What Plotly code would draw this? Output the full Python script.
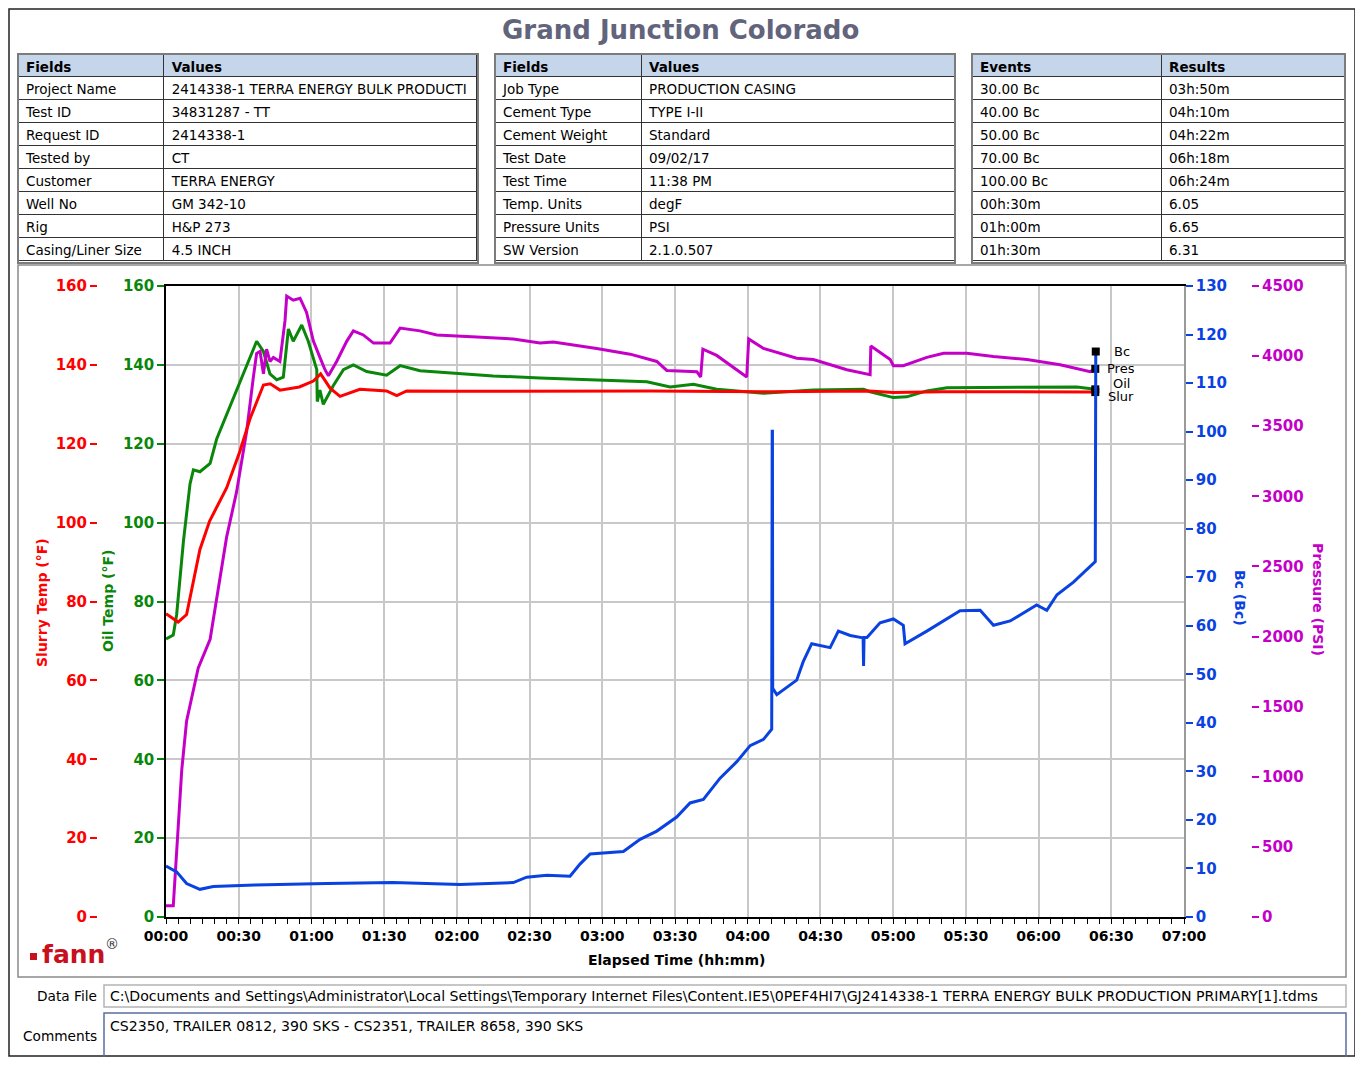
import plotly.graph_objects as go

# ---------------- page geometry helpers (reference pixels -> paper) ----------------
W, H = 1347, 1049
OFF = 8


def fx(X):
    return (X - OFF) / W


def fy(Y):
    return 1 - (Y - OFF) / H


FONT = "DejaVu Sans"

# ---------------- table data ----------------
fields_1 = ["Project Name", "Test ID", "Request ID", "Tested by", "Customer", "Well No", "Rig", "Casing/Liner Size"]
values_1 = ["2414338-1 TERRA ENERGY BULK PRODUCTI", "34831287 - TT", "2414338-1", "CT", "TERRA ENERGY",
            "GM 342-10", "H&P 273", "4.5 INCH"]
fields_2 = ["Job Type", "Cement Type", "Cement Weight", "Test Date", "Test Time", "Temp. Units",
            "Pressure Units", "SW Version"]
values_2 = ["PRODUCTION CASING", "TYPE I-II", "Standard", "09/02/17", "11:38 PM", "degF", "PSI", "2.1.0.507"]
events = ["30.00 Bc", "40.00 Bc", "50.00 Bc", "70.00 Bc", "100.00 Bc", "00h:30m", "01h:00m", "01h:30m"]
results = ["03h:50m", "04h:10m", "04h:22m", "06h:18m", "06h:24m", "6.05", "6.65", "6.31"]

# ---------------- series data (elapsed minutes) ----------------
slurry_t = [0, 5, 8.5, 14, 18, 25, 30.5, 34.7, 40.2, 43, 47, 55, 60.8, 63.8, 67.7, 71.8, 80, 91, 95.2, 99.3,
            120, 150, 200, 250, 290, 300, 320, 350, 383.4]
slurry_f = [76.9, 74.8, 76.7, 93.2, 100.4, 108.8, 118.1, 126.4, 134.9, 135.2, 133.6, 134.4, 135.9, 137.7, 134.1,
            132.0, 133.8, 133.4, 132.2, 133.4, 133.3, 133.3, 133.4, 133.2, 133.4, 133.0, 133.2, 133.2, 133.1]

oil_t = [0, 3, 4.4, 7.2, 9.9, 11.3, 14, 18.2, 20.9, 25, 30.5, 37.4, 40.2, 42.9, 45.7, 48.4, 50.5, 52.5, 56, 58.7,
         62.2, 62.4, 63.5, 64.9, 69, 73.2, 77.3, 82.8, 91, 96.6, 104.8, 121.3, 135, 154.3, 177.7, 198.4, 208,
         217.6, 227.2, 246.5, 267.1, 287.8, 290.5, 300.1, 305.6, 313.9, 322.2, 341.4, 375.8, 383.4]
oil_f = [70.5, 71.5, 76.7, 95.3, 109.8, 113.4, 112.9, 115, 121.2, 127.4, 135.7, 146, 143.4, 137.7, 136.2, 136.9,
         149.1, 146, 150.1, 146, 138.8, 130.7, 133.6, 130.0, 134.7, 138.8, 140, 138.3, 137.4, 139.8, 138.5, 137.7,
         137.2, 136.7, 136.2, 135.7, 134.4, 135.1, 133.8, 132.8, 133.6, 133.8, 133.2, 131.7, 131.9, 133.4, 134.2,
         134.3, 134.4, 133.8]

pres_t = [0, 3, 4.4, 6.5, 8.5, 11.3, 13.3, 18.2, 21.6, 25, 29.1, 33.3, 36, 37.4, 38.8, 40.2, 41.5, 42.9, 44.3, 47,
          49.1, 49.8, 52.5, 55.3, 58, 60.8, 63.5, 65.6, 67, 70.4, 74.6, 77.3, 81.4, 85.6, 92.4, 96.6, 104.8, 111.7,
          128.2, 143.3, 154.3, 159.8, 177.7, 191.5, 202.5, 206.6, 219, 220.6, 221.5, 227.2, 239.6, 240.4, 246.5,
          260.2, 267.1, 280.9, 290.5, 290.8, 298.8, 300.1, 304.2, 313.9, 320.8, 330.4, 341.4, 355.2, 368.9, 381.3,
          383.4]
pres_psi = [80, 80, 466, 1049, 1398, 1631, 1777, 1981, 2330, 2709, 3030, 3466, 3845, 4020, 4034, 3874, 4049, 3962,
            3991, 3962, 4253, 4428, 4399, 4413, 4311, 4107, 3991, 3903, 3860, 3962, 4107, 4180, 4151, 4093, 4093,
            4200, 4180, 4151, 4136, 4122, 4093, 4101, 4055, 4014, 3962, 3898, 3889, 3851, 4049, 4005, 3851, 4122,
            4055, 3985, 3976, 3903, 3868, 4072, 3976, 3932, 3932, 3991, 4020, 4020, 3997, 3976, 3938, 3889, 3909]

bc_t = [0, 4.4, 8.5, 14, 19.5, 36.6, 66.2, 93.7, 121.3, 143.3, 148.8, 157.1, 166.7, 170.8, 175, 188.7, 195.6,
        202.5, 210.7, 216.2, 221.7, 228.6, 235.5, 241, 246.5, 249.9, 250.1, 250.2, 250.3, 252, 260.2, 262.9,
        266.4, 274, 277.4, 282.3, 287.6, 287.8, 288.0, 289.2, 294.6, 300.1, 304.2, 304.9, 313.9, 322.2, 327.6,
        335.9, 341.4, 348.3, 355.2, 359.2, 363.4, 367.6, 374.4, 381.3, 383.4, 383.6]
bc_val = [10.5, 9.3, 6.9, 5.7, 6.3, 6.6, 6.9, 7.1, 6.7, 7.1, 8.2, 8.6, 8.4, 10.9, 13.0, 13.5, 16.0, 17.7, 20.6,
          23.5, 24.2, 28.6, 32.0, 35.3, 36.6, 38.7, 100.1, 100.1, 47.1, 45.8, 48.8, 52.6, 56.3, 55.5, 58.9, 58.0,
          57.5, 51.7, 57.6, 57.6, 60.6, 61.4, 60.1, 56.3, 58.9, 61.4, 63.1, 63.2, 60.1, 61.0, 63.1, 64.3, 63.2,
          66.4, 69.0, 72.3, 73.2, 116.5]

x_tick_vals = [0, 30, 60, 90, 120, 150, 180, 210, 240, 270, 300, 330, 360, 390, 420]
x_tick_text = ["00:00", "00:30", "01:00", "01:30", "02:00", "02:30", "03:00", "03:30", "04:00", "04:30",
               "05:00", "05:30", "06:00", "06:30", "07:00"]
temp_ticks = [0, 20, 40, 60, 80, 100, 120, 140, 160]
bc_ticks = [0, 10, 20, 30, 40, 50, 60, 70, 80, 90, 100, 110, 120, 130]
pres_ticks = [0, 500, 1000, 1500, 2000, 2500, 3000, 3500, 4000, 4500]

RED = "#ff0000"
GREEN = "#0a870a"
BLUE = "#0a42e2"
MAG = "#c400c8"

fig = go.Figure()


def cell_texts(items):
    """Non-breaking spaces keep each cell on one line (clipped like the reference).
    Texts holding an '&' are passed wrapped in a one-item list, so plotly.js shows
    them as plain text and the row keeps its declared height."""
    out = []
    for s in items:
        s = s.replace(" ", "\u00a0")
        out.append([s] if "&" in s else s)
    return out


# ---------------- tables ----------------
def add_table(x0, x1, y0, y1, head, col_a, col_b, widths):
    fig.add_trace(go.Table(
        domain=dict(x=[fx(x0), fx(x1)], y=[fy(y1), fy(y0)]),
        columnwidth=widths,
        header=dict(values=head, fill_color="#c5d5ea",
                    line=dict(color="#333333", width=1), align="left",
                    font=dict(family=FONT, size=13.5, color="black", weight="bold"), height=22),
        cells=dict(values=[cell_texts(col_a), cell_texts(col_b)], fill_color="white",
                   line=dict(color="#333333", width=1), align="left",
                   font=dict(family=FONT, size=13.5, color="black"), height=23),
    ))


add_table(18, 478, 54, 264, ["Fields", "Values"], fields_1, values_1, [146, 314])
add_table(495, 955, 54, 264, ["Fields", "Values"], fields_2, values_2, [146, 314])
add_table(972, 1345, 54, 264, ["Events", "Results"], events, results, [189, 184])

# ---------------- chart traces ----------------
fig.add_trace(go.Scatter(x=oil_t, y=oil_f, mode="lines", line=dict(color=GREEN, width=3),
                         xaxis="x", yaxis="y", showlegend=False, name="Oil"))
fig.add_trace(go.Scatter(x=pres_t, y=pres_psi, mode="lines", line=dict(color=MAG, width=3),
                         xaxis="x", yaxis="y2", showlegend=False, name="Pres"))
fig.add_trace(go.Scatter(x=slurry_t, y=slurry_f, mode="lines", line=dict(color=RED, width=3),
                         xaxis="x", yaxis="y3", showlegend=False, name="Slur"))
fig.add_trace(go.Scatter(x=bc_t, y=bc_val, mode="lines", line=dict(color=BLUE, width=3),
                         xaxis="x", yaxis="y4", showlegend=False, name="Bc"))

end_series = [(oil_t, oil_f, "y", "Oil", 6), (pres_t, pres_psi, "y2", "Pres", 0),
              (slurry_t, slurry_f, "y3", "Slur", -4), (bc_t, bc_val, "y4", "Bc", 0)]
annotations = []
for ts, vs, ax, lab, ysh in end_series:
    fig.add_trace(go.Scatter(x=[ts[-1]], y=[vs[-1]], mode="markers", xaxis="x", yaxis=ax,
                             marker=dict(symbol="square", size=8, color="black"), showlegend=False))
    annotations.append(dict(x=ts[-1], y=vs[-1], xref="x", yref=ax, text=lab, showarrow=False,
                            xanchor="center", xshift=26, yshift=ysh,
                            font=dict(family=FONT, size=13, color="black")))


# ---------------- text annotations ----------------
def ann(X, Y, text, size, color, xanchor="center", yanchor="middle", angle=0, bold=False):
    annotations.append(dict(x=fx(X), y=fy(Y), xref="paper", yref="paper", text=text, showarrow=False,
                            xanchor=xanchor, yanchor=yanchor, textangle=angle,
                            font=dict(family=FONT, size=size, color=color,
                                      weight="bold" if bold else "normal")))


ann(680, 30, "Grand Junction Colorado", 26, "#62647c", bold=True)
ann(42, 603, "Slurry Temp (°F)", 14, RED, angle=-90, bold=True)
ann(108, 601, "Oil Temp (°F)", 14, GREEN, angle=-90, bold=True)
ann(1240, 598, "Bc (Bc)", 14, BLUE, angle=90, bold=True)
ann(1318, 599, "Pressure (PSI)", 14, MAG, angle=90, bold=True)
ann(676, 960, "Elapsed Time (hh:mm)", 14, "black", bold=True)
ann(40, 955, "fann", 25, "#c8101e", xanchor="left", bold=True)
ann(103, 944, "®", 14, "#333333", xanchor="left")
ann(99, 996, "Data File", 13.7, "black", xanchor="right")
ann(99, 1036, "Comments", 13.7, "black", xanchor="right")
ann(108, 996, "C:\\Documents and Settings\\Administrator\\Local Settings\\Temporary Internet Files\\Content.IE5"
              "\\0PEF4HI7\\GJ2414338-1 TERRA ENERGY BULK PRODUCTION PRIMARY[1].tdms", 14.1, "black", xanchor="left")
ann(108, 1026, "CS2350, TRAILER 0812, 390 SKS - CS2351, TRAILER 8658, 390 SKS", 14.1, "black", xanchor="left")

# ---------------- shapes (frames/boxes) ----------------
shapes = [
    dict(type="rect", xref="paper", yref="paper", x0=fx(9), x1=fx(1355), y0=fy(1056), y1=fy(9),
         line=dict(color="#222222", width=1.5)),
    dict(type="rect", xref="paper", yref="paper", x0=fx(18), x1=fx(1346), y0=fy(977), y1=fy(265),
         line=dict(color="#8a8a8a", width=1.5)),
    dict(type="rect", xref="paper", yref="paper", x0=fx(104), x1=fx(1346), y0=fy(1007), y1=fy(985),
         line=dict(color="#b4b4b4", width=1.5), fillcolor="rgba(0,0,0,0)"),
    dict(type="rect", xref="paper", yref="paper", x0=fx(104), x1=fx(1346), y0=fy(1060), y1=fy(1013),
         line=dict(color="#5a6ea0", width=1.5), fillcolor="rgba(0,0,0,0)"),
    dict(type="rect", xref="paper", yref="paper", x0=fx(30), x1=fx(37), y0=fy(960), y1=fy(953),
         line=dict(width=0), fillcolor="#c8101e"),
]
for x0, x1 in [(18, 478), (495, 955), (972, 1345)]:
    shapes.append(dict(type="rect", xref="paper", yref="paper", x0=fx(x0), x1=fx(x1), y0=fy(263), y1=fy(54),
                       line=dict(color="#7c7c7c", width=2)))

axis_font = dict(family=FONT, size=15, weight="bold")
PLOT_Y = [fy(917), fy(286)]

fig.update_layout(
    width=W, height=H, autosize=False,
    margin=dict(l=0, r=0, t=0, b=0, pad=0, autoexpand=False),
    paper_bgcolor="white", plot_bgcolor="white",
    showlegend=False,
    xaxis=dict(domain=[fx(166), fx(1184)], range=[0, 420], tickmode="array", tickvals=x_tick_vals,
               ticktext=x_tick_text, ticks="outside", ticklen=5, tickcolor="black", tickwidth=1,
               tickfont=dict(family=FONT, size=14, color="black", weight="bold"), automargin=False,
               showgrid=True, gridcolor="#c8c8c8", gridwidth=1.5, zeroline=False,
               showline=True, linecolor="black", linewidth=1.5, mirror=True, anchor="y",
               minor=dict(tickmode="linear", tick0=0, dtick=5, ticks="outside", ticklen=5,
                          tickcolor="black", showgrid=False)),
    yaxis=dict(domain=PLOT_Y, range=[0, 160], tickmode="array", tickvals=temp_ticks, ticks="outside",
               ticklen=7, tickcolor=GREEN, tickwidth=2, tickfont=dict(color=GREEN, **axis_font),
               showgrid=True, gridcolor="#c8c8c8", gridwidth=1.5, zeroline=False, automargin=False,
               showline=True, linecolor="black", linewidth=1.5, anchor="x", side="left"),
    yaxis2=dict(domain=PLOT_Y, range=[0, 4500], tickmode="array", tickvals=pres_ticks, tickformat="d",
                ticks="outside", ticklen=7, tickcolor=MAG, tickwidth=2, automargin=False,
                tickfont=dict(color=MAG, **axis_font), showgrid=False, zeroline=False, showline=False,
                overlaying="y", anchor="free", position=fx(1251), side="right"),
    yaxis3=dict(domain=PLOT_Y, range=[0, 160], tickmode="array", tickvals=temp_ticks, ticks="outside",
                ticklen=7, tickcolor=RED, tickwidth=2, tickfont=dict(color=RED, **axis_font),
                showgrid=False, zeroline=False, showline=False, automargin=False,
                overlaying="y", anchor="free", position=fx(97), side="left"),
    yaxis4=dict(domain=PLOT_Y, range=[0, 130], tickmode="array", tickvals=bc_ticks, ticks="outside",
                ticklen=7, tickcolor=BLUE, tickwidth=2, tickfont=dict(color=BLUE, **axis_font),
                showgrid=False, zeroline=False, showline=True, linecolor="#9a9a9a", linewidth=1.5,
                automargin=False, overlaying="y", anchor="x", side="right"),
    annotations=annotations,
    shapes=shapes,
)

fig.write_html("out.html")
